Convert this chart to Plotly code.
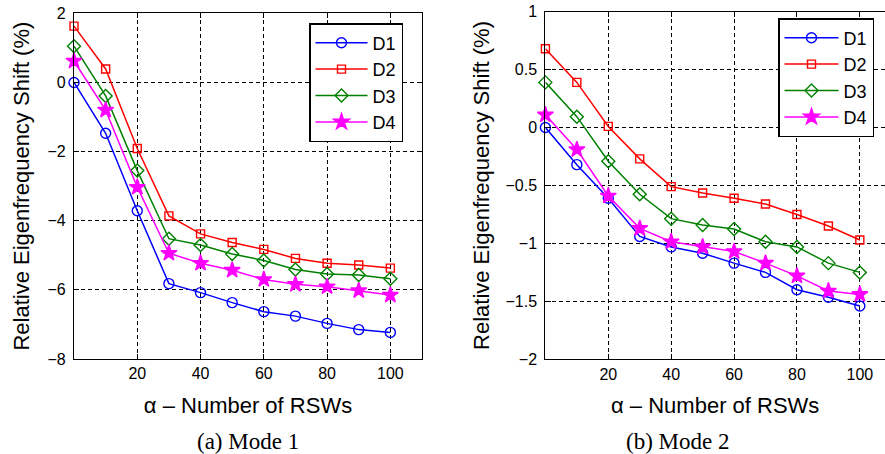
import plotly.graph_objects as go

alpha = [0, 10, 20, 30, 40, 50, 60, 70, 80, 90, 100]
series_names = ["D1", "D2", "D3", "D4"]

# Mode 1
m1_D1 = [0.0, -1.47, -3.71, -5.82, -6.08, -6.37, -6.63, -6.76, -6.97, -7.15, -7.23]
m1_D2 = [1.63, 0.39, -1.91, -3.86, -4.38, -4.63, -4.83, -5.09, -5.23, -5.28, -5.37]
m1_D3 = [1.05, -0.39, -2.55, -4.52, -4.70, -4.96, -5.15, -5.41, -5.54, -5.57, -5.68]
m1_D4 = [0.62, -0.80, -3.03, -4.94, -5.23, -5.43, -5.70, -5.84, -5.91, -6.02, -6.15]

# Mode 2
m2_D1 = [0.0, -0.32, -0.61, -0.94, -1.03, -1.085, -1.17, -1.25, -1.40, -1.465, -1.54]
m2_D2 = [0.68, 0.39, 0.01, -0.27, -0.51, -0.565, -0.61, -0.66, -0.75, -0.85, -0.97]
m2_D3 = [0.39, 0.094, -0.29, -0.576, -0.786, -0.84, -0.875, -0.985, -1.03, -1.17, -1.25]
m2_D4 = [0.11, -0.19, -0.59, -0.87, -0.985, -1.03, -1.07, -1.17, -1.28, -1.41, -1.44]

x_ticks = [20, 40, 60, 80, 100]
y1_ticks = [-8, -6, -4, -2, 0, 2]
y2_ticks = [-2, -1.5, -1, -0.5, 0, 0.5, 1]

colors = ["#0000ff", "#ff0000", "#008000", "#ff00ff"]
symbols = ["circle-open", "square-open", "diamond-open", "star"]
sizes = [10, 8, 10, 12]

W, H = 885, 454
fig = go.Figure()

for data, xa, ya, lg in [
    ([m1_D1, m1_D2, m1_D3, m1_D4], "x", "y", "legend"),
    ([m2_D1, m2_D2, m2_D3, m2_D4], "x2", "y2", "legend2"),
]:
    for i, ys in enumerate(data):
        fig.add_trace(go.Scatter(
            x=alpha, y=ys, name=series_names[i], mode="lines+markers",
            xaxis=xa, yaxis=ya, legend=lg, cliponaxis=False,
            line=dict(color=colors[i], width=1.5),
            marker=dict(symbol=symbols[i], size=sizes[i], color=colors[i],
                        line=dict(color=colors[i], width=1.4)),
        ))

font_sans = "Liberation Sans, Arial, sans-serif"
font_serif = "Liberation Serif, Times New Roman, serif"

common_axis = dict(
    showline=True, linecolor="black", linewidth=1.2,
    ticks="inside", ticklen=5, tickcolor="black", tickwidth=1,
    showgrid=True, gridcolor="black", gridwidth=1, griddash="4px,3px",
    zeroline=False, automargin=False, ticklabeloverflow="allow",
    tickfont=dict(family=font_sans, size=16, color="black"),
)

def px_x(p):
    return p / W

def px_y(p):
    return 1 - p / H

fig.update_layout(
    template="none",
    width=W, height=H,
    margin=dict(l=0, r=0, t=0, b=0, autoexpand=False),
    paper_bgcolor="white", plot_bgcolor="white",
    font=dict(family=font_sans, color="black"),
    xaxis=dict(common_axis, domain=[px_x(74), px_x(422)], range=[0, 110],
               tickvals=x_ticks, mirror="ticks", anchor="y",
               title=dict(text="α – Number of RSWs", font=dict(size=22), standoff=16)),
    yaxis=dict(common_axis, domain=[px_y(359), px_y(13.3)], range=[-8, 2],
               tickvals=y1_ticks, mirror="ticks", anchor="x",
               ticklabelstandoff=4,
               title=dict(text="Relative Eigenfrequency Shift (%)", font=dict(size=22), standoff=11)),
    xaxis2=dict(common_axis, domain=[px_x(545.4), 1.0], range=[0, 108],
                tickvals=x_ticks, mirror="ticks", anchor="y2",
                title=dict(text="α – Number of RSWs", font=dict(size=22), standoff=16)),
    yaxis2=dict(common_axis, domain=[px_y(359.3), px_y(11.7)], range=[-2, 1],
                tickvals=y2_ticks, mirror=False, anchor="x2",
                ticklabelstandoff=4,
                title=dict(text="Relative Eigenfrequency Shift (%)", font=dict(size=22), standoff=9)),
    legend=dict(x=px_x(309), y=px_y(23), xanchor="left", yanchor="top",
                bgcolor="white", bordercolor="black", borderwidth=1.5,
                font=dict(family=font_sans, size=18, color="black"),
                itemwidth=52, tracegroupgap=0),
    legend2=dict(x=px_x(778), y=px_y(18), xanchor="left", yanchor="top",
                 bgcolor="white", bordercolor="black", borderwidth=1.5,
                 font=dict(family=font_sans, size=18, color="black"),
                 itemwidth=54, tracegroupgap=0),
    annotations=[
        dict(text="(a) Mode 1", x=px_x(248), y=px_y(441), xref="paper", yref="paper",
             showarrow=False, xanchor="center", yanchor="middle",
             font=dict(family=font_serif, size=23, color="black")),
        dict(text="(b) Mode 2", x=px_x(677), y=px_y(441), xref="paper", yref="paper",
             showarrow=False, xanchor="center", yanchor="middle",
             font=dict(family=font_serif, size=23, color="black")),
    ],
)

# remove the default page margin so the figure sits at the window's top-left corner
fig.write_html("out.html",
               config={"displayModeBar": False},
               post_script="document.body.style.margin='0';document.body.style.overflow='hidden';")
